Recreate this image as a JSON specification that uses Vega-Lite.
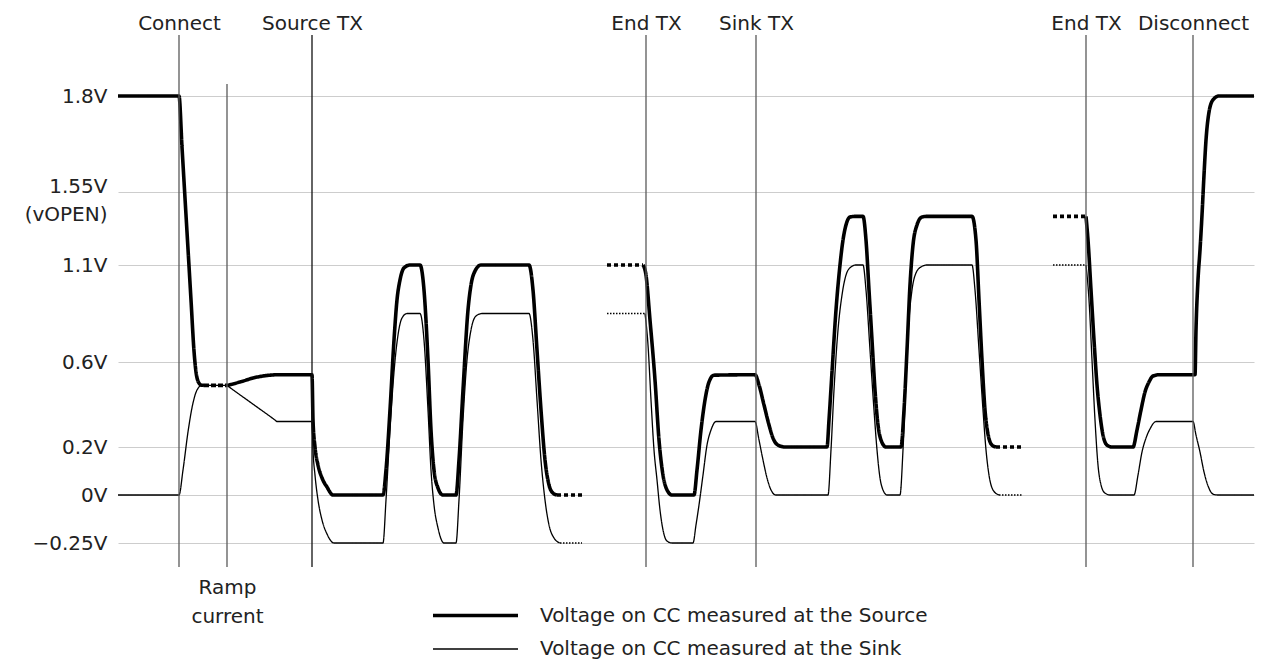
{
  "$schema": "https://vega.github.io/schema/vega-lite/v6.json",
  "width": 1136,
  "height": 532,
  "autosize": {"type": "none"},
  "padding": {"left": 118, "top": 35, "right": 12, "bottom": 94},
  "background": "white",
  "config": {"view": {"stroke": null}, "font": "DejaVu Sans"},
  "datasets": {
    "events": [
      {"t": 179, "name": "Connect"},
      {"t": 312, "name": "Source TX"},
      {"t": 646, "name": "End TX"},
      {"t": 756, "name": "Sink TX"},
      {"t": 1086, "name": "End TX"},
      {"t": 1193, "name": "Disconnect"}
    ],
    "ramp": [{"t": 227, "name": "Ramp current"}],
    "waves": [
      {"s":"Source","g":"S1","st":"solid","t":118,"v":1.8},
      {"s":"Source","g":"S1","st":"solid","t":179,"v":1.8},
      {"s":"Source","g":"S1","st":"solid","t":182,"v":1.667},
      {"s":"Source","g":"S1","st":"solid","t":185,"v":1.513},
      {"s":"Source","g":"S1","st":"solid","t":188,"v":1.199},
      {"s":"Source","g":"S1","st":"solid","t":191,"v":0.92},
      {"s":"Source","g":"S1","st":"solid","t":194,"v":0.657},
      {"s":"Source","g":"S1","st":"solid","t":196,"v":0.553},
      {"s":"Source","g":"S1","st":"solid","t":198,"v":0.51},
      {"s":"Source","g":"S1","st":"solid","t":201,"v":0.492},
      {"s":"Source","g":"S1","st":"solid","t":204,"v":0.49},
      {"s":"Source","g":"S2","st":"dash","t":204,"v":0.49},
      {"s":"Source","g":"S2","st":"dash","t":227,"v":0.49},
      {"s":"Source","g":"S3","st":"solid","t":227,"v":0.49},
      {"s":"Source","g":"S3","st":"solid","t":240,"v":0.506},
      {"s":"Source","g":"S3","st":"solid","t":255,"v":0.527},
      {"s":"Source","g":"S3","st":"solid","t":270,"v":0.538},
      {"s":"Source","g":"S3","st":"solid","t":277,"v":0.54},
      {"s":"Source","g":"S3","st":"solid","t":312,"v":0.54},
      {"s":"Source","g":"S3","st":"solid","t":313,"v":0.327},
      {"s":"Source","g":"S3","st":"solid","t":315,"v":0.2},
      {"s":"Source","g":"S3","st":"solid","t":318,"v":0.125},
      {"s":"Source","g":"S3","st":"solid","t":322,"v":0.071},
      {"s":"Source","g":"S3","st":"solid","t":327,"v":0.033},
      {"s":"Source","g":"S3","st":"solid","t":333,"v":0},
      {"s":"Source","g":"S3","st":"solid","t":383,"v":0},
      {"s":"Source","g":"S3","st":"solid","t":386,"v":0.104},
      {"s":"Source","g":"S3","st":"solid","t":390,"v":0.374},
      {"s":"Source","g":"S3","st":"solid","t":394,"v":0.713},
      {"s":"Source","g":"S3","st":"solid","t":397,"v":0.92},
      {"s":"Source","g":"S3","st":"solid","t":400,"v":1.023},
      {"s":"Source","g":"S3","st":"solid","t":404,"v":1.085},
      {"s":"Source","g":"S3","st":"solid","t":410,"v":1.1},
      {"s":"Source","g":"S3","st":"solid","t":420,"v":1.1},
      {"s":"Source","g":"S3","st":"solid","t":424,"v":0.971},
      {"s":"Source","g":"S3","st":"solid","t":428,"v":0.61},
      {"s":"Source","g":"S3","st":"solid","t":431,"v":0.28},
      {"s":"Source","g":"S3","st":"solid","t":434,"v":0.104},
      {"s":"Source","g":"S3","st":"solid","t":438,"v":0.029},
      {"s":"Source","g":"S3","st":"solid","t":443,"v":0},
      {"s":"Source","g":"S3","st":"solid","t":456,"v":0},
      {"s":"Source","g":"S3","st":"solid","t":459,"v":0.146},
      {"s":"Source","g":"S3","st":"solid","t":463,"v":0.468},
      {"s":"Source","g":"S3","st":"solid","t":468,"v":0.868},
      {"s":"Source","g":"S3","st":"solid","t":471,"v":0.997},
      {"s":"Source","g":"S3","st":"solid","t":475,"v":1.069},
      {"s":"Source","g":"S3","st":"solid","t":481,"v":1.1},
      {"s":"Source","g":"S3","st":"solid","t":529,"v":1.1},
      {"s":"Source","g":"S3","st":"solid","t":533,"v":0.971},
      {"s":"Source","g":"S3","st":"solid","t":537,"v":0.662},
      {"s":"Source","g":"S3","st":"solid","t":541,"v":0.374},
      {"s":"Source","g":"S3","st":"solid","t":545,"v":0.146},
      {"s":"Source","g":"S3","st":"solid","t":549,"v":0.042},
      {"s":"Source","g":"S3","st":"solid","t":553,"v":0.008},
      {"s":"Source","g":"S3","st":"solid","t":557,"v":0},
      {"s":"Source","g":"S4","st":"dotS","t":557,"v":0},
      {"s":"Source","g":"S4","st":"dotS","t":582,"v":0},
      {"s":"Source","g":"S5","st":"dotS","t":607,"v":1.1},
      {"s":"Source","g":"S5","st":"dotS","t":643,"v":1.1},
      {"s":"Source","g":"S6","st":"solid","t":643,"v":1.1},
      {"s":"Source","g":"S6","st":"solid","t":646,"v":1.048},
      {"s":"Source","g":"S6","st":"solid","t":650,"v":0.816},
      {"s":"Source","g":"S6","st":"solid","t":655,"v":0.515},
      {"s":"Source","g":"S6","st":"solid","t":659,"v":0.233},
      {"s":"Source","g":"S6","st":"solid","t":663,"v":0.083},
      {"s":"Source","g":"S6","st":"solid","t":667,"v":0.021},
      {"s":"Source","g":"S6","st":"solid","t":672,"v":0},
      {"s":"Source","g":"S6","st":"solid","t":694,"v":0},
      {"s":"Source","g":"S6","st":"solid","t":697,"v":0.104},
      {"s":"Source","g":"S6","st":"solid","t":701,"v":0.28},
      {"s":"Source","g":"S6","st":"solid","t":705,"v":0.421},
      {"s":"Source","g":"S6","st":"solid","t":709,"v":0.506},
      {"s":"Source","g":"S6","st":"solid","t":714,"v":0.538},
      {"s":"Source","g":"S6","st":"solid","t":755,"v":0.54},
      {"s":"Source","g":"S6","st":"solid","t":759,"v":0.492},
      {"s":"Source","g":"S6","st":"solid","t":764,"v":0.398},
      {"s":"Source","g":"S6","st":"solid","t":769,"v":0.304},
      {"s":"Source","g":"S6","st":"solid","t":773,"v":0.242},
      {"s":"Source","g":"S6","st":"solid","t":778,"v":0.209},
      {"s":"Source","g":"S6","st":"solid","t":785,"v":0.2},
      {"s":"Source","g":"S6","st":"solid","t":827,"v":0.2},
      {"s":"Source","g":"S6","st":"solid","t":829,"v":0.327},
      {"s":"Source","g":"S6","st":"solid","t":832,"v":0.553},
      {"s":"Source","g":"S6","st":"solid","t":836,"v":0.868},
      {"s":"Source","g":"S6","st":"solid","t":840,"v":1.1},
      {"s":"Source","g":"S6","st":"solid","t":843,"v":1.254},
      {"s":"Source","g":"S6","st":"solid","t":846,"v":1.347},
      {"s":"Source","g":"S6","st":"solid","t":850,"v":1.396},
      {"s":"Source","g":"S6","st":"solid","t":856,"v":1.4},
      {"s":"Source","g":"S6","st":"solid","t":863,"v":1.4},
      {"s":"Source","g":"S6","st":"solid","t":866,"v":1.254},
      {"s":"Source","g":"S6","st":"solid","t":869,"v":0.971},
      {"s":"Source","g":"S6","st":"solid","t":872,"v":0.713},
      {"s":"Source","g":"S6","st":"solid","t":875,"v":0.468},
      {"s":"Source","g":"S6","st":"solid","t":878,"v":0.304},
      {"s":"Source","g":"S6","st":"solid","t":881,"v":0.233},
      {"s":"Source","g":"S6","st":"solid","t":886,"v":0.2},
      {"s":"Source","g":"S6","st":"solid","t":901,"v":0.2},
      {"s":"Source","g":"S6","st":"solid","t":904,"v":0.374},
      {"s":"Source","g":"S6","st":"solid","t":907,"v":0.662},
      {"s":"Source","g":"S6","st":"solid","t":910,"v":0.997},
      {"s":"Source","g":"S6","st":"solid","t":913,"v":1.223},
      {"s":"Source","g":"S6","st":"solid","t":917,"v":1.347},
      {"s":"Source","g":"S6","st":"solid","t":922,"v":1.396},
      {"s":"Source","g":"S6","st":"solid","t":928,"v":1.4},
      {"s":"Source","g":"S6","st":"solid","t":972,"v":1.4},
      {"s":"Source","g":"S6","st":"solid","t":976,"v":1.254},
      {"s":"Source","g":"S6","st":"solid","t":979,"v":0.92},
      {"s":"Source","g":"S6","st":"solid","t":982,"v":0.61},
      {"s":"Source","g":"S6","st":"solid","t":985,"v":0.374},
      {"s":"Source","g":"S6","st":"solid","t":988,"v":0.261},
      {"s":"Source","g":"S6","st":"solid","t":992,"v":0.209},
      {"s":"Source","g":"S6","st":"solid","t":996,"v":0.2},
      {"s":"Source","g":"S7","st":"dotS","t":996,"v":0.2},
      {"s":"Source","g":"S7","st":"dotS","t":1023,"v":0.2},
      {"s":"Source","g":"S8","st":"dotS","t":1053,"v":1.4},
      {"s":"Source","g":"S8","st":"dotS","t":1086,"v":1.4},
      {"s":"Source","g":"S9","st":"solid","t":1086,"v":1.4},
      {"s":"Source","g":"S9","st":"solid","t":1088,"v":1.254},
      {"s":"Source","g":"S9","st":"solid","t":1091,"v":0.971},
      {"s":"Source","g":"S9","st":"solid","t":1094,"v":0.713},
      {"s":"Source","g":"S9","st":"solid","t":1097,"v":0.492},
      {"s":"Source","g":"S9","st":"solid","t":1100,"v":0.351},
      {"s":"Source","g":"S9","st":"solid","t":1103,"v":0.256},
      {"s":"Source","g":"S9","st":"solid","t":1107,"v":0.209},
      {"s":"Source","g":"S9","st":"solid","t":1112,"v":0.2},
      {"s":"Source","g":"S9","st":"solid","t":1133,"v":0.2},
      {"s":"Source","g":"S9","st":"solid","t":1137,"v":0.28},
      {"s":"Source","g":"S9","st":"solid","t":1141,"v":0.374},
      {"s":"Source","g":"S9","st":"solid","t":1145,"v":0.459},
      {"s":"Source","g":"S9","st":"solid","t":1149,"v":0.506},
      {"s":"Source","g":"S9","st":"solid","t":1153,"v":0.534},
      {"s":"Source","g":"S9","st":"solid","t":1159,"v":0.54},
      {"s":"Source","g":"S9","st":"solid","t":1195,"v":0.54},
      {"s":"Source","g":"S9","st":"solid","t":1196,"v":0.765},
      {"s":"Source","g":"S9","st":"solid","t":1198,"v":1.023},
      {"s":"Source","g":"S9","st":"solid","t":1200,"v":1.192},
      {"s":"Source","g":"S9","st":"solid","t":1202,"v":1.408},
      {"s":"Source","g":"S9","st":"solid","t":1204,"v":1.594},
      {"s":"Source","g":"S9","st":"solid","t":1206,"v":1.685},
      {"s":"Source","g":"S9","st":"solid","t":1209,"v":1.758},
      {"s":"Source","g":"S9","st":"solid","t":1213,"v":1.79},
      {"s":"Source","g":"S9","st":"solid","t":1219,"v":1.8},
      {"s":"Source","g":"S9","st":"solid","t":1254,"v":1.8},
      {"s":"Sink","g":"K1","st":"solid","t":118,"v":0},
      {"s":"Sink","g":"K1","st":"solid","t":179,"v":0},
      {"s":"Sink","g":"K1","st":"solid","t":183,"v":0.104},
      {"s":"Sink","g":"K1","st":"solid","t":188,"v":0.271},
      {"s":"Sink","g":"K1","st":"solid","t":193,"v":0.407},
      {"s":"Sink","g":"K1","st":"solid","t":197,"v":0.468},
      {"s":"Sink","g":"K1","st":"solid","t":202,"v":0.49},
      {"s":"Sink","g":"K1","st":"solid","t":227,"v":0.49},
      {"s":"Sink","g":"K1","st":"solid","t":229,"v":0.483},
      {"s":"Sink","g":"K1","st":"solid","t":252,"v":0.405},
      {"s":"Sink","g":"K1","st":"solid","t":275,"v":0.327},
      {"s":"Sink","g":"K1","st":"solid","t":277,"v":0.32},
      {"s":"Sink","g":"K1","st":"solid","t":312,"v":0.32},
      {"s":"Sink","g":"K1","st":"solid","t":313,"v":0.188},
      {"s":"Sink","g":"K1","st":"solid","t":315,"v":0.083},
      {"s":"Sink","g":"K1","st":"solid","t":318,"v":-0.026},
      {"s":"Sink","g":"K1","st":"solid","t":322,"v":-0.13},
      {"s":"Sink","g":"K1","st":"solid","t":327,"v":-0.203},
      {"s":"Sink","g":"K1","st":"solid","t":334,"v":-0.25},
      {"s":"Sink","g":"K1","st":"solid","t":383,"v":-0.25},
      {"s":"Sink","g":"K1","st":"solid","t":386,"v":-0.026},
      {"s":"Sink","g":"K1","st":"solid","t":390,"v":0.28},
      {"s":"Sink","g":"K1","st":"solid","t":394,"v":0.553},
      {"s":"Sink","g":"K1","st":"solid","t":398,"v":0.739},
      {"s":"Sink","g":"K1","st":"solid","t":402,"v":0.827},
      {"s":"Sink","g":"K1","st":"solid","t":407,"v":0.85},
      {"s":"Sink","g":"K1","st":"solid","t":420,"v":0.85},
      {"s":"Sink","g":"K1","st":"solid","t":424,"v":0.713},
      {"s":"Sink","g":"K1","st":"solid","t":428,"v":0.374},
      {"s":"Sink","g":"K1","st":"solid","t":431,"v":0.104},
      {"s":"Sink","g":"K1","st":"solid","t":434,"v":-0.052},
      {"s":"Sink","g":"K1","st":"solid","t":438,"v":-0.172},
      {"s":"Sink","g":"K1","st":"solid","t":444,"v":-0.25},
      {"s":"Sink","g":"K1","st":"solid","t":456,"v":-0.25},
      {"s":"Sink","g":"K1","st":"solid","t":459,"v":-0.026},
      {"s":"Sink","g":"K1","st":"solid","t":463,"v":0.327},
      {"s":"Sink","g":"K1","st":"solid","t":467,"v":0.61},
      {"s":"Sink","g":"K1","st":"solid","t":471,"v":0.765},
      {"s":"Sink","g":"K1","st":"solid","t":476,"v":0.837},
      {"s":"Sink","g":"K1","st":"solid","t":482,"v":0.85},
      {"s":"Sink","g":"K1","st":"solid","t":529,"v":0.85},
      {"s":"Sink","g":"K1","st":"solid","t":533,"v":0.713},
      {"s":"Sink","g":"K1","st":"solid","t":537,"v":0.421},
      {"s":"Sink","g":"K1","st":"solid","t":541,"v":0.146},
      {"s":"Sink","g":"K1","st":"solid","t":545,"v":-0.026},
      {"s":"Sink","g":"K1","st":"solid","t":549,"v":-0.156},
      {"s":"Sink","g":"K1","st":"solid","t":554,"v":-0.224},
      {"s":"Sink","g":"K1","st":"solid","t":560,"v":-0.25},
      {"s":"Sink","g":"K2","st":"dotK","t":560,"v":-0.25},
      {"s":"Sink","g":"K2","st":"dotK","t":582,"v":-0.25},
      {"s":"Sink","g":"K3","st":"dotK","t":607,"v":0.85},
      {"s":"Sink","g":"K3","st":"dotK","t":645,"v":0.85},
      {"s":"Sink","g":"K4","st":"solid","t":645,"v":0.85},
      {"s":"Sink","g":"K4","st":"solid","t":648,"v":0.688},
      {"s":"Sink","g":"K4","st":"solid","t":651,"v":0.421},
      {"s":"Sink","g":"K4","st":"solid","t":654,"v":0.188},
      {"s":"Sink","g":"K4","st":"solid","t":657,"v":0.063},
      {"s":"Sink","g":"K4","st":"solid","t":660,"v":-0.078},
      {"s":"Sink","g":"K4","st":"solid","t":663,"v":-0.182},
      {"s":"Sink","g":"K4","st":"solid","t":667,"v":-0.24},
      {"s":"Sink","g":"K4","st":"solid","t":672,"v":-0.25},
      {"s":"Sink","g":"K4","st":"solid","t":693,"v":-0.25},
      {"s":"Sink","g":"K4","st":"solid","t":696,"v":-0.156},
      {"s":"Sink","g":"K4","st":"solid","t":699,"v":-0.052},
      {"s":"Sink","g":"K4","st":"solid","t":703,"v":0.083},
      {"s":"Sink","g":"K4","st":"solid","t":707,"v":0.209},
      {"s":"Sink","g":"K4","st":"solid","t":711,"v":0.28},
      {"s":"Sink","g":"K4","st":"solid","t":716,"v":0.32},
      {"s":"Sink","g":"K4","st":"solid","t":755,"v":0.32},
      {"s":"Sink","g":"K4","st":"solid","t":759,"v":0.233},
      {"s":"Sink","g":"K4","st":"solid","t":763,"v":0.146},
      {"s":"Sink","g":"K4","st":"solid","t":767,"v":0.071},
      {"s":"Sink","g":"K4","st":"solid","t":771,"v":0.021},
      {"s":"Sink","g":"K4","st":"solid","t":776,"v":0},
      {"s":"Sink","g":"K4","st":"solid","t":828,"v":0},
      {"s":"Sink","g":"K4","st":"solid","t":831,"v":0.188},
      {"s":"Sink","g":"K4","st":"solid","t":834,"v":0.468},
      {"s":"Sink","g":"K4","st":"solid","t":838,"v":0.765},
      {"s":"Sink","g":"K4","st":"solid","t":842,"v":0.945},
      {"s":"Sink","g":"K4","st":"solid","t":846,"v":1.048},
      {"s":"Sink","g":"K4","st":"solid","t":851,"v":1.09},
      {"s":"Sink","g":"K4","st":"solid","t":856,"v":1.1},
      {"s":"Sink","g":"K4","st":"solid","t":863,"v":1.1},
      {"s":"Sink","g":"K4","st":"solid","t":866,"v":0.971},
      {"s":"Sink","g":"K4","st":"solid","t":870,"v":0.662},
      {"s":"Sink","g":"K4","st":"solid","t":874,"v":0.374},
      {"s":"Sink","g":"K4","st":"solid","t":877,"v":0.188},
      {"s":"Sink","g":"K4","st":"solid","t":880,"v":0.071},
      {"s":"Sink","g":"K4","st":"solid","t":883,"v":0.021},
      {"s":"Sink","g":"K4","st":"solid","t":887,"v":0},
      {"s":"Sink","g":"K4","st":"solid","t":900,"v":0},
      {"s":"Sink","g":"K4","st":"solid","t":903,"v":0.188},
      {"s":"Sink","g":"K4","st":"solid","t":906,"v":0.515},
      {"s":"Sink","g":"K4","st":"solid","t":909,"v":0.816},
      {"s":"Sink","g":"K4","st":"solid","t":912,"v":0.971},
      {"s":"Sink","g":"K4","st":"solid","t":916,"v":1.059},
      {"s":"Sink","g":"K4","st":"solid","t":921,"v":1.09},
      {"s":"Sink","g":"K4","st":"solid","t":927,"v":1.1},
      {"s":"Sink","g":"K4","st":"solid","t":972,"v":1.1},
      {"s":"Sink","g":"K4","st":"solid","t":975,"v":0.971},
      {"s":"Sink","g":"K4","st":"solid","t":979,"v":0.662},
      {"s":"Sink","g":"K4","st":"solid","t":983,"v":0.374},
      {"s":"Sink","g":"K4","st":"solid","t":986,"v":0.188},
      {"s":"Sink","g":"K4","st":"solid","t":989,"v":0.083},
      {"s":"Sink","g":"K4","st":"solid","t":993,"v":0.021},
      {"s":"Sink","g":"K4","st":"solid","t":999,"v":0},
      {"s":"Sink","g":"K5","st":"dotK","t":999,"v":0},
      {"s":"Sink","g":"K5","st":"dotK","t":1023,"v":0},
      {"s":"Sink","g":"K6","st":"dotK","t":1053,"v":1.1},
      {"s":"Sink","g":"K6","st":"dotK","t":1086,"v":1.1},
      {"s":"Sink","g":"K7","st":"solid","t":1086,"v":1.1},
      {"s":"Sink","g":"K7","st":"solid","t":1089,"v":0.92},
      {"s":"Sink","g":"K7","st":"solid","t":1092,"v":0.61},
      {"s":"Sink","g":"K7","st":"solid","t":1095,"v":0.327},
      {"s":"Sink","g":"K7","st":"solid","t":1098,"v":0.125},
      {"s":"Sink","g":"K7","st":"solid","t":1101,"v":0.042},
      {"s":"Sink","g":"K7","st":"solid","t":1105,"v":0.008},
      {"s":"Sink","g":"K7","st":"solid","t":1110,"v":0},
      {"s":"Sink","g":"K7","st":"solid","t":1134,"v":0},
      {"s":"Sink","g":"K7","st":"solid","t":1138,"v":0.083},
      {"s":"Sink","g":"K7","st":"solid","t":1142,"v":0.179},
      {"s":"Sink","g":"K7","st":"solid","t":1146,"v":0.242},
      {"s":"Sink","g":"K7","st":"solid","t":1150,"v":0.285},
      {"s":"Sink","g":"K7","st":"solid","t":1156,"v":0.32},
      {"s":"Sink","g":"K7","st":"solid","t":1193,"v":0.32},
      {"s":"Sink","g":"K7","st":"solid","t":1196,"v":0.256},
      {"s":"Sink","g":"K7","st":"solid","t":1200,"v":0.179},
      {"s":"Sink","g":"K7","st":"solid","t":1204,"v":0.096},
      {"s":"Sink","g":"K7","st":"solid","t":1208,"v":0.038},
      {"s":"Sink","g":"K7","st":"solid","t":1213,"v":0.004},
      {"s":"Sink","g":"K7","st":"solid","t":1218,"v":0},
      {"s":"Sink","g":"K7","st":"solid","t":1254,"v":0}
    ]
  },
  "layer": [
    {
      "data": {"name": "waves"},
      "mark": {"type": "line", "color": "black", "interpolate": "monotone", "strokeJoin": "round"},
      "encoding": {
        "x": {"field": "t", "type": "quantitative", "scale": {"domain": [118, 1254], "nice": false, "zero": false}, "axis": null},
        "y": {
          "field": "v", "type": "quantitative",
          "scale": {"domain": [-0.25, 0, 0.2, 0.6, 1.1, 1.55, 1.8], "range": [508, 460, 412, 327, 230, 157, 61], "nice": false, "zero": false},
          "axis": {
            "orient": "left", "title": null,
            "values": [-0.25, 0, 0.2, 0.6, 1.1, 1.55, 1.8],
            "grid": true, "gridColor": "#cdcdcd", "gridWidth": 1.2,
            "domain": false, "ticks": false, "tickSize": 0,
            "labelPadding": 11, "labelFont": "DejaVu Sans", "labelFontSize": 20, "labelColor": "#222",
            "labelOverlap": false, "labelFlush": false, "labelLineHeight": 28,
            "labelBaseline": {"condition": {"test": "datum.value == 1.55", "value": "alphabetic"}, "value": "middle"},
            "labelExpr": "datum.value == 1.55 ? ['1.55V', '(vOPEN)'] : datum.value == -0.25 ? '\u22120.25V' : datum.value + 'V'"
          }
        },
        "detail": {"field": "g"},
        "strokeWidth": {
          "field": "s", "type": "ordinal",
          "scale": {"domain": ["Source", "Sink"], "range": [3.6, 1.3]},
          "legend": {
            "title": null, "orient": "none", "legendX": 347, "legendY": 570, "padding": 0,
            "symbolType": "M-5,0H5", "symbolSize": 289, "symbolStrokeColor": "black", "symbolFillColor": "transparent",
            "labelFont": "DejaVu Sans", "labelFontSize": 20, "labelColor": "#222", "labelLimit": 0,
            "labelOffset": 54, "rowPadding": 13,
            "labelExpr": "datum.label == 'Source' ? 'Voltage on CC measured at the Source' : 'Voltage on CC measured at the Sink'"
          }
        },
        "strokeDash": {
          "field": "st", "type": "nominal",
          "scale": {"domain": ["solid", "dash", "dotS", "dotK"], "range": [[1, 0], [5, 2], [4, 3], [1.5, 1.5]]},
          "legend": null
        }
      }
    },
    {
      "data": {"name": "events"},
      "mark": {"type": "rule", "strokeWidth": 1.3},
      "encoding": {
        "x": {
          "field": "t", "type": "quantitative", "scale": {"domain": [118, 1254], "nice": false, "zero": false},
          "axis": {
            "orient": "top", "title": null, "values": [179, 312, 646, 756, 1086, 1193],
            "grid": false, "domain": false, "ticks": false, "tickSize": 0,
            "labelPadding": 2, "labelFont": "DejaVu Sans", "labelFontSize": 20, "labelColor": "#222",
            "labelOverlap": false, "labelFlush": false,
            "labelExpr": "datum.value == 179 ? 'Connect' : datum.value == 312 ? 'Source TX' : datum.value == 646 ? 'End TX' : datum.value == 756 ? 'Sink TX' : datum.value == 1086 ? 'End TX' : 'Disconnect'"
          }
        },
        "color": {"condition": {"test": "datum.name == 'Source TX'", "value": "#111"}, "value": "#5a5a5a"}
      }
    },
    {
      "data": {"name": "ramp"},
      "mark": {"type": "rule", "strokeWidth": 1.3, "color": "#5a5a5a"},
      "encoding": {
        "x": {
          "field": "t", "type": "quantitative", "scale": {"domain": [118, 1254], "nice": false, "zero": false},
          "axis": {
            "orient": "bottom", "title": null, "values": [227],
            "grid": false, "domain": false, "ticks": false, "tickSize": 0,
            "labelPadding": 10, "labelFont": "DejaVu Sans", "labelFontSize": 20, "labelColor": "#222",
            "labelOverlap": false, "labelFlush": false, "labelLineHeight": 29,
            "labelExpr": "['Ramp', 'current']"
          }
        },
        "y": {"datum": 1.831, "type": "quantitative"},
        "y2": {"datum": -0.375}
      }
    }
  ]
}
